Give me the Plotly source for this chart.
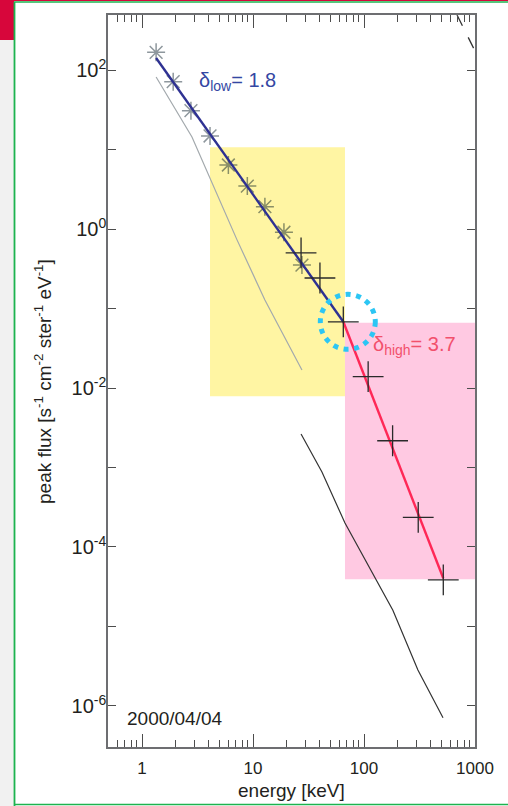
import math
import plotly.graph_objects as go

# ---------------- data ----------------
star_energy = [1.34, 1.91, 2.76, 4.10, 6.0, 8.89, 12.8, 19.0, 27.6]
star_flux = [167, 71.3, 30.8, 14.8, 6.38, 3.47, 1.91, 0.91, 0.352]

cross_energy = [27.1, 40.1, 65.1, 109, 181, 308, 518]
cross_flux = [0.50, 0.242, 0.068, 0.0139, 0.00217, 2.36e-4, 3.85e-5]

low_fit_energy = [1.34, 65.1]
low_fit_flux = [141.6, 0.068]
high_fit_energy = [65.1, 518]
high_fit_flux = [0.068, 4.04e-5]

gray_curve_energy = [1.34, 2.82, 7.18, 12.8, 27.6]
gray_curve_flux = [81.6, 14.4, 0.73, 0.128, 0.0168]

black_curve_energy = [27.1, 41.8, 67.4, 182, 306, 515]
black_curve_flux = [2.64e-3, 8.8e-4, 2.0e-4, 1.6e-5, 2.84e-6, 7.1e-7]

dashed_energy = [689, 1064]
dashed_flux = [492, 146]

yellow_box_energy = [4.1, 67.4]
yellow_box_flux = [0.0079, 10.7]
pink_box_energy = [67.4, 1000]
pink_box_flux = [3.93e-5, 0.0664]

break_energy = 65.1
break_flux = 0.068

x_tick_vals = [1, 10, 100, 1000]
x_tick_text = ["1", "10", "100", "1000"]
x_minor_vals = [0.6, 0.7, 0.8, 0.9] + [m * d for d in (1, 10, 100) for m in range(2, 10)]
y_tick_exponents = [-6, -5, -4, -3, -2, -1, 0, 1, 2]
y_label_exponents = [-6, -4, -2, 0, 2]

delta_low_text = "δ<sub>low</sub>= 1.8"
delta_high_text = "δ<sub>high</sub>= 3.7"
date_text = "2000/04/04"

# ---------------- styling ----------------
FONT = "Liberation Sans, Arial, Helvetica, sans-serif"
TXT = "#231f20"
AXC = "#6d6e71"

L, R, T, B = 108, 33, 15, 59
W, H = 508, 806
PW, PH = W - L - R, H - T - B
X_DEC = PW / (3.0 - math.log10(0.494))     # pixels per decade (x)
Y_DEC = PH / (2.692 + 6.516)                # pixels per decade (y)


def px_x(px):
    return (px - L) / PW


def px_y(py):
    return (H - B - py) / PH


fig = go.Figure()

fig.add_trace(go.Scatter(x=gray_curve_energy, y=gray_curve_flux, mode="lines",
                         line=dict(color="#a3a9ad", width=1.2), hoverinfo="skip"))
fig.add_trace(go.Scatter(x=black_curve_energy, y=black_curve_flux, mode="lines",
                         line=dict(color="#333333", width=1.2), hoverinfo="skip"))
fig.add_trace(go.Scatter(x=dashed_energy, y=dashed_flux, mode="lines",
                         line=dict(color="#333333", width=1.3, dash="12px,13px"),
                         hoverinfo="skip"))

star_colors = ["#8a8f66" if (yellow_box_energy[0] * 1.05 <= e <= yellow_box_energy[1]) else "#8e979d"
               for e in star_energy]
fig.add_trace(go.Scatter(x=star_energy, y=star_flux, mode="markers",
                         marker=dict(symbol="asterisk-open", size=15, color=star_colors,
                                     line=dict(width=1.5))))
fig.add_trace(go.Scatter(x=low_fit_energy, y=low_fit_flux, mode="lines",
                         line=dict(color="#2e3192", width=2.4)))
fig.add_trace(go.Scatter(x=high_fit_energy, y=high_fit_flux, mode="lines",
                         line=dict(color="#ff2857", width=2.4)))
fig.add_trace(go.Scatter(x=cross_energy, y=cross_flux, mode="markers",
                         marker=dict(symbol="cross-thin-open", size=22, color="#2a2a2a",
                                     line=dict(width=1.3))))

# dotted ring around the break point (centre offset / radius in pixels)
ring_dx, ring_r = 4.5, 27.5
lx = math.log10(break_energy)
ly = math.log10(break_flux)
ring = dict(type="circle", xref="x", yref="y", layer="above",
            x0=10 ** (lx + (ring_dx - ring_r) / X_DEC), x1=10 ** (lx + (ring_dx + ring_r) / X_DEC),
            y0=10 ** (ly - ring_r / Y_DEC), y1=10 ** (ly + ring_r / Y_DEC),
            line=dict(color="#2cc6f4", width=5, dash="5px,5.6px"))

shapes = [
    dict(type="rect", xref="x", yref="y", layer="below", line=dict(width=0),
         fillcolor="#fff5a3",
         x0=yellow_box_energy[0], x1=yellow_box_energy[1],
         y0=yellow_box_flux[0], y1=yellow_box_flux[1]),
    dict(type="rect", xref="x", yref="y", layer="below", line=dict(width=0),
         fillcolor="#ffc9e2",
         x0=pink_box_energy[0], x1=pink_box_energy[1],
         y0=pink_box_flux[0], y1=pink_box_flux[1]),
    ring,
    # slide decorations around the picture
    dict(type="rect", xref="paper", yref="paper", line=dict(width=0), fillcolor="#f1f1f1",
         x0=px_x(0), x1=px_x(14), y0=px_y(806), y1=px_y(40)),
    dict(type="rect", xref="paper", yref="paper", line=dict(width=0), fillcolor="#d7063b",
         x0=px_x(0), x1=px_x(14), y0=px_y(40), y1=px_y(0)),
    dict(type="line", xref="paper", yref="paper", line=dict(color="#d7063b", width=1.2),
         x0=px_x(0), x1=px_x(508), y0=px_y(0.5), y1=px_y(0.5)),
    dict(type="line", xref="paper", yref="paper", line=dict(color="#1db34f", width=1.6),
         x0=px_x(14), x1=px_x(508), y0=px_y(2), y1=px_y(2)),
    dict(type="line", xref="paper", yref="paper", line=dict(color="#1db34f", width=1.8),
         x0=px_x(14.5), x1=px_x(14.5), y0=px_y(806), y1=px_y(2)),
    dict(type="line", xref="paper", yref="paper", line=dict(color="#1db34f", width=1.6),
         x0=px_x(14), x1=px_x(508), y0=px_y(804.5), y1=px_y(804.5)),
]

annotations = [
    dict(text=delta_low_text, xref="x", yref="y", x=math.log10(3.13), y=math.log10(72),
         xanchor="left", yanchor="middle", showarrow=False,
         font=dict(family=FONT, size=20, color="#3447a3")),
    dict(text=delta_high_text, xref="x", yref="y", x=math.log10(116), y=math.log10(0.034),
         xanchor="left", yanchor="middle", showarrow=False,
         font=dict(family=FONT, size=20, color="#f2506c")),
    dict(text=date_text, xref="paper", yref="paper", x=px_x(125), y=px_y(718),
         xanchor="left", yanchor="middle", showarrow=False,
         font=dict(family=FONT, size=19, color=TXT)),
    dict(text="energy [keV]", xref="paper", yref="paper", x=px_x(291.5), y=px_y(790),
         xanchor="center", yanchor="middle", showarrow=False,
         font=dict(family=FONT, size=19, color=TXT)),
    dict(text="peak flux [s<sup>-1</sup> cm<sup>-2</sup> ster<sup>-1</sup> eV<sup>-1</sup>]",
         xref="paper", yref="paper", x=px_x(43), y=px_y(382), textangle=-90,
         xanchor="center", yanchor="middle", showarrow=False,
         font=dict(family=FONT, size=19, color=TXT)),
]

y_tick_vals = [10.0 ** e for e in y_tick_exponents]
y_tick_text = [("10<sup>%d</sup>" % e) if e in y_label_exponents else "" for e in y_tick_exponents]

fig.update_layout(
    width=W, height=H,
    margin=dict(l=L, r=R, t=T, b=B, pad=0),
    paper_bgcolor="white", plot_bgcolor="white",
    showlegend=False,
    shapes=shapes, annotations=annotations,
    font=dict(family=FONT, color=TXT),
    xaxis=dict(type="log", range=[math.log10(0.494), 3.0],
               showgrid=False, zeroline=False,
               showline=True, linecolor=AXC, linewidth=1.5, mirror="ticks",
               ticks="inside", ticklen=13, tickwidth=1.2, tickcolor="#4d4d4d",
               tickvals=x_tick_vals, ticktext=x_tick_text,
               tickfont=dict(family=FONT, size=17, color=TXT),
               ticklabelstandoff=5,
               minor=dict(ticks="inside", ticklen=7, tickwidth=1.2, tickcolor="#4d4d4d",
                          tickvals=x_minor_vals, showgrid=False)),
    yaxis=dict(type="log", range=[-6.516, 2.692],
               showgrid=False, zeroline=False,
               showline=True, linecolor=AXC, linewidth=1.5, mirror="ticks",
               ticks="inside", ticklen=8, tickwidth=1.2, tickcolor="#4d4d4d",
               tickvals=y_tick_vals, ticktext=y_tick_text,
               tickfont=dict(family=FONT, size=20, color=TXT),
               ticklabelstandoff=-4),
)

fig.write_html("out.html")
